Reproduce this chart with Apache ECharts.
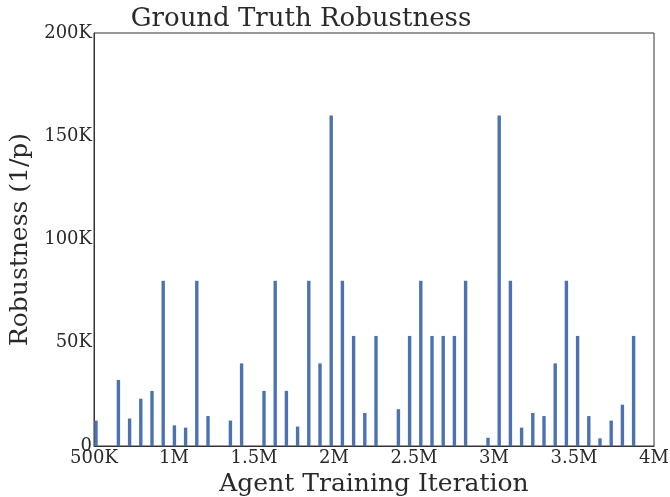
<!DOCTYPE html>
<html>
<head>
<meta charset="utf-8">
<title>Ground Truth Robustness</title>
<script src="https://cdn.jsdelivr.net/npm/echarts@6/dist/echarts.min.js"></script>
<style>
  html, body { margin: 0; padding: 0; background: #fff; }
  #chart-box { width: 670px; height: 497px; }
</style>
</head>
<body>
<div id="chart-box"></div>
<script>
// training iterations (bar centres), 70K apart
var iterations = [];
for (var i = 0; i < 49; i++) {
  iterations.push(512500 + 70000 * i);
}

// robustness values, 0 = no bar
var robustness = [
  12300, 0, 32000, 13300, 22900, 26700, 80000, 10000, 8900, 80000,
  14500, 0, 12300, 40000, 0, 26700, 80000, 26700, 9400, 80000,
  40000, 160000, 80000, 53300, 16000, 53300, 0, 17800, 53300, 80000,
  53300, 53300, 53300, 80000, 0, 4000, 160000, 80000, 8900, 16000,
  14500, 40000, 80000, 53300, 14500, 3700, 12300, 20000, 53300
];

var xTicks = { 500000: '500K', 1000000: '1M', 1500000: '1.5M', 2000000: '2M',
  2500000: '2.5M', 3000000: '3M', 3500000: '3.5M', 4000000: '4M' };
var yTicks = { 0: '0', 50000: '50K', 100000: '100K', 150000: '150K', 200000: '200K' };

var font = 'DejaVu Serif';

var chart = echarts.init(document.getElementById('chart-box'));

var points = [];
for (var j = 0; j < iterations.length; j++) {
  if (robustness[j] > 0) points.push([iterations[j], robustness[j]]);
}

var option = {
  animation: false,
  title: {
    text: 'Ground Truth Robustness',
    left: 296, top: 1,
    textAlign: 'center',
    textStyle: { fontFamily: font, fontWeight: 'normal', fontSize: 26, color: '#2a2a2a' }
  },
  grid: {
    left: 94, right: 16, top: 33, bottom: 51,
    outerBoundsMode: 'none',
    containLabel: false,
    show: true, borderColor: '#333', borderWidth: 1
  },
  xAxis: {
    type: 'value',
    min: 500000, max: 4000000, interval: 500000,
    name: 'Agent Training Iteration',
    nameLocation: 'middle', nameGap: 26,
    nameTextStyle: { fontFamily: font, fontSize: 25, color: '#2a2a2a' },
    axisLine: { show: true, lineStyle: { color: '#333' } },
    axisTick: { show: false },
    splitLine: { show: false },
    axisLabel: {
      fontFamily: font, fontSize: 18, color: '#2a2a2a', margin: 3,
      formatter: function (v) { return xTicks[v]; }
    }
  },
  yAxis: {
    type: 'value',
    min: 0, max: 200000, interval: 50000,
    name: 'Robustness (1/p)',
    nameLocation: 'middle', nameGap: 52,
    nameTextStyle: { fontFamily: font, fontSize: 25, color: '#2a2a2a' },
    axisLine: { show: true, lineStyle: { color: '#333' } },
    axisTick: { show: false },
    splitLine: { show: false },
    axisLabel: {
      fontFamily: font, fontSize: 18, color: '#2a2a2a', margin: 2,
      formatter: function (v) { return yTicks[v]; }
    }
  },
  series: [{
    type: 'bar',
    data: points,
    barWidth: 3.4,
    itemStyle: { color: '#4c72b0' }
  }]
};

chart.setOption(option);
</script>
</body>
</html>
